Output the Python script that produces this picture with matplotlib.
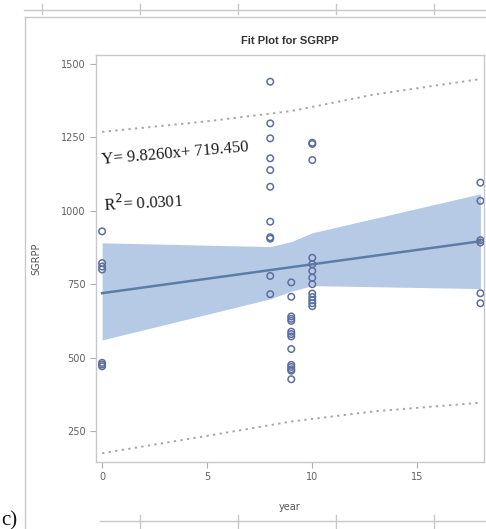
import numpy as np
import matplotlib.pyplot as plt
from matplotlib.lines import Line2D

yr_0 = [0, 0, 0, 0, 0, 0, 0]
sg_0 = [930, 822, 810, 800, 482, 476, 470]
yr_8 = [8] * 11
sg_8 = [1440, 1298, 1247, 1179, 1139, 1082, 963, 910, 905, 778, 716]
yr_9 = [9] * 14
sg_9 = [756, 707, 640, 632, 625, 588, 580, 572, 529, 475, 468, 460, 455, 426]
yr_10 = [10] * 13
sg_10 = [1232, 1228, 1173, 840, 818, 795, 772, 750, 718, 706, 695, 685, 675]
yr_18 = [18] * 6
sg_18 = [1096, 1034, 900, 892, 719, 685]

# fitted line end points
fit_x = [0, 18]
fit_y = [719.45, 896.3]

# confidence band
band_x = [0, 8, 9, 10, 18]
band_lo = [560, 700, 726, 745, 735]
band_hi = [891, 878, 895, 925, 1058]

# prediction limits
pred_x = [0, 5, 9, 13, 18]
pred_lo = [174, 233, 282, 317, 346]
pred_hi = [1269, 1305, 1340, 1397, 1449]

x_ticks = [0, 5, 10, 15]
y_ticks = [250, 500, 750, 1000, 1250, 1500]

fig = plt.figure(figsize=(4.86, 5.29), dpi=100)
ax = fig.add_axes([96 / 486, 1 - 462 / 529, 388 / 486, 407 / 529])

ax.fill_between(band_x, band_lo, band_hi, color='#b6cae6', lw=0, zorder=1)
ax.plot(fit_x, fit_y, color='#5c7ea6', lw=1.8, zorder=2)
ax.plot(pred_x, pred_lo, color='#a8a8a8', lw=1.4, ls=(0, (1.2, 2.2)), zorder=2)
ax.plot(pred_x, pred_hi, color='#a8a8a8', lw=1.4, ls=(0, (1.2, 2.2)), zorder=2)

xs = yr_0 + yr_8 + yr_9 + yr_10 + yr_18
ys = sg_0 + sg_8 + sg_9 + sg_10 + sg_18
ax.scatter(xs, ys, s=22, facecolors='none', edgecolors='#5d6f9e', linewidths=1.1, zorder=3)

ax.set_xlim(-0.29, 18.17)
ax.set_ylim(144, 1531)
ax.set_xticks(x_ticks)
ax.set_yticks(y_ticks)
ax.tick_params(colors='#b0b0b0', labelcolor='#606060', labelsize=7, length=4, width=0.8)
for s in ax.spines.values():
    s.set_color('#c8c8c8')
    s.set_linewidth(1.0)

ax.set_title('Fit Plot for SGRPP', fontsize=8, fontweight='bold', color='#333333',
             family='Liberation Sans', pad=8)
ax.set_ylabel('SGRPP', fontsize=7, color='#555555', labelpad=14)
ax.set_xlabel('year', fontsize=7, color='#555555', labelpad=14)

ax.text(-0.05, 1160, 'Y= 9.8260x+ 719.450', family='Liberation Serif', fontsize=12,
        rotation=5, color='#1a1a1a', zorder=4)
ax.text(0.05, 1000, 'R$^2$= 0.0301', family='Liberation Serif', fontsize=12,
        rotation=3, color='#1a1a1a', zorder=4)

# surrounding page decorations
W, H = 486, 529
def fline(x0, y0, x1, y1, c='#c8c8c8', lw=1.0):
    fig.add_artist(Line2D([x0 / W, x1 / W], [1 - y0 / H, 1 - y1 / H], color=c, lw=lw))

fline(24, 10, 486, 10)
for tx in [42, 140, 238, 336, 434]:
    fline(tx, 4, tx, 14)
fline(25, 17, 486, 17)
fline(25, 17, 25, 529)
fline(100, 521, 486, 521)
for tx in [140, 238, 336, 434]:
    fline(tx, 515, tx, 529)
fig.text(1 / W, 1 - 525 / H, 'c)', family='Liberation Serif', fontsize=15, color='#111111')

fig.savefig('out.png', dpi=100)
